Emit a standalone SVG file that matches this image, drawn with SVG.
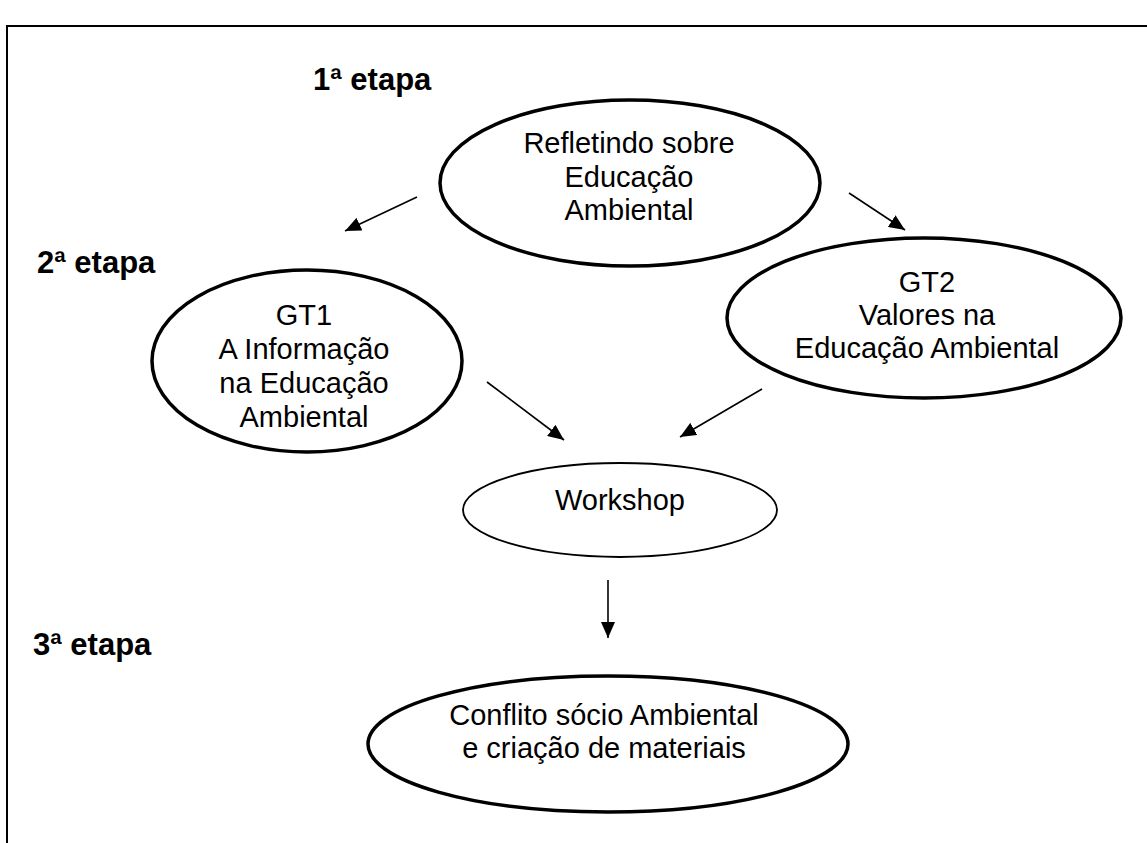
<svg xmlns="http://www.w3.org/2000/svg" width="1147" height="843" viewBox="0 0 1147 843">
<defs>
<style>
.t{font-family:"Liberation Sans",Arial,sans-serif;font-size:29px;fill:#000;text-anchor:middle}
.lb{font-family:"Liberation Sans",Arial,sans-serif;font-size:31px;font-weight:bold;fill:#000}
.ek{fill:#fff;stroke:#000;stroke-width:3.5}
.en{fill:#fff;stroke:#000;stroke-width:1.8}
.c{stroke:#000;stroke-width:1.6;fill:none}
</style>
<marker id="ah" markerWidth="16" markerHeight="14" refX="16" refY="7" orient="auto" markerUnits="userSpaceOnUse" viewBox="0 0 16 14">
<path d="M0,0 L16,7 L0,14 z" fill="#000"/>
</marker>
</defs>
<rect width="1147" height="843" fill="#fff"/>
<g id="frame">
<path d="M7,843 V26 H1147" fill="none" stroke="#000" stroke-width="2"/>
</g>
<g id="labels">
<text class="lb" x="313" y="90">1ª etapa</text>
<text class="lb" x="37" y="273">2ª etapa</text>
<text class="lb" x="33" y="655">3ª etapa</text>
</g>
<g id="connectors">
<line class="c" x1="417" y1="197" x2="345" y2="231" marker-end="url(#ah)"/>
<line class="c" x1="849" y1="193" x2="905" y2="230" marker-end="url(#ah)"/>
<line class="c" x1="487" y1="382" x2="564" y2="440" marker-end="url(#ah)"/>
<line class="c" x1="762" y1="389" x2="680" y2="437" marker-end="url(#ah)"/>
<line class="c" x1="608" y1="580" x2="608" y2="638" stroke-width="2" marker-end="url(#ah)"/>
</g>
<g id="n1">
<ellipse class="ek" cx="630" cy="183" rx="190" ry="83"/>
<text class="t" x="629" y="153">Refletindo sobre</text>
<text class="t" x="629" y="187">Educação</text>
<text class="t" x="629" y="220">Ambiental</text>
</g>
<g id="n2">
<ellipse class="ek" cx="307" cy="361" rx="155" ry="91"/>
<text class="t" x="304" y="325">GT1</text>
<text class="t" x="304" y="359">A Informação</text>
<text class="t" x="304" y="393">na Educação</text>
<text class="t" x="304" y="427">Ambiental</text>
</g>
<g id="n3">
<ellipse class="ek" cx="924" cy="318" rx="197" ry="80"/>
<text class="t" x="927" y="292">GT2</text>
<text class="t" x="927" y="325">Valores na</text>
<text class="t" x="927" y="358">Educação Ambiental</text>
</g>
<g id="n4">
<ellipse class="en" cx="620" cy="510" rx="157" ry="47"/>
<text class="t" x="620" y="510">Workshop</text>
</g>
<g id="n5">
<ellipse class="ek" cx="608" cy="744" rx="240" ry="68"/>
<text class="t" x="604" y="725">Conflito sócio Ambiental</text>
<text class="t" x="604" y="758">e criação de materiais</text>
</g>
</svg>
